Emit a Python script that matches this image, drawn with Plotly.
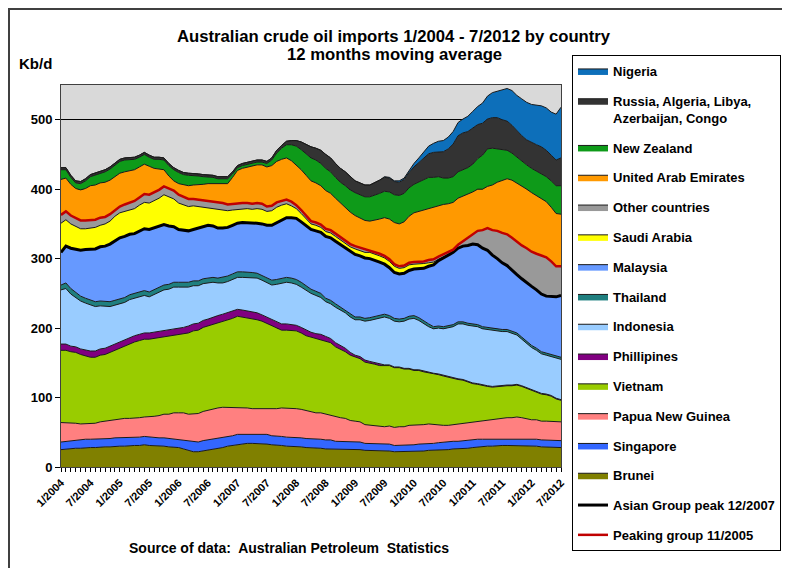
import plotly.graph_objects as go
import numpy as np

# ---------------- data (kb/d, 12-month moving average), monthly 1/2004 .. 7/2012 ----------------
months = [f"{m}/{y}" for y in range(2004, 2013) for m in range(1, 13)][:103]
tick_labels = ["1/2004", "7/2004", "1/2005", "7/2005", "1/2006", "7/2006", "1/2007", "7/2007",
               "1/2008", "7/2008", "1/2009", "7/2009", "1/2010", "7/2010", "1/2011", "7/2011",
               "1/2012", "7/2012"]

brunei = [25, 26, 26, 27, 27, 28, 28, 28, 29, 29, 29, 30,
          30, 30, 31, 31, 31, 32, 31, 31, 30, 30, 29, 29,
          28, 26, 24, 22, 22, 23, 24, 25, 27, 28, 30, 31,
          33, 33, 34, 34, 34, 33, 33, 32, 32, 31, 30, 30,
          29, 29, 28, 28, 27, 27, 26, 26, 25, 25, 25, 25,
          25, 25, 24, 24, 24, 23, 23, 23, 22, 22, 22, 22,
          22, 23, 23, 24, 24, 25, 25, 25, 26, 26, 27, 27,
          28, 29, 29, 30, 30, 31, 31, 31, 31, 31, 31, 30,
          30, 30, 29, 29, 29, 28, 28]
singapore = [11, 11, 12, 12, 12, 12, 12, 12, 12, 12, 12, 12,
             12, 12, 12, 12, 12, 12, 12, 12, 12, 12, 12, 12,
             12, 13, 13, 14, 14, 15, 15, 15, 14, 14, 14, 14,
             14, 14, 14, 14, 14, 14, 14, 13, 13, 13, 13, 13,
             13, 13, 13, 13, 13, 13, 13, 13, 12, 12, 12, 11,
             11, 11, 10, 10, 10, 10, 10, 10, 9, 9, 9, 10,
             10, 10, 10, 10, 10, 10, 11, 11, 11, 11, 11, 11,
             11, 11, 11, 10, 10, 10, 10, 10, 10, 10, 10, 10,
             10, 10, 10, 10, 10, 10, 10]
png = [28, 27, 25, 24, 23, 22, 22, 23, 24, 25, 26, 27,
       28, 28, 27, 27, 28, 28, 29, 30, 32, 34, 35, 37,
       38, 39, 39, 40, 41, 42, 43, 44, 44, 44, 42, 40,
       39, 38, 37, 36, 36, 37, 37, 38, 39, 41, 42, 42,
       42, 41, 40, 39, 38, 38, 37, 36, 35, 34, 33, 31,
       30, 29, 27, 26, 25, 25, 25, 26, 26, 27, 27, 28,
       28, 28, 28, 28, 27, 26, 24, 24, 24, 25, 25, 25,
       25, 26, 27, 28, 28, 29, 29, 30, 30, 31, 30, 29,
       28, 28, 27, 27, 27, 27, 27]
vietnam = [104, 104, 103, 102, 100, 98, 96, 95, 96, 96, 98, 100,
           102, 105, 108, 110, 111, 112, 112, 112, 112, 112, 112, 112,
           112, 114, 117, 120, 120, 121, 121, 122, 123, 124, 126, 129,
           131, 131, 130, 129, 128, 126, 123, 120, 116, 112, 112, 112,
           112, 110, 108, 107, 107, 106, 106, 104, 101, 99, 96, 94,
           92, 91, 90, 90, 89, 88, 88, 87, 86, 85, 83, 81,
           79, 78, 76, 74, 73, 72, 71, 69, 66, 64, 62, 59,
           56, 53, 50, 48, 47, 46, 46, 46, 46, 46, 45, 44,
           42, 40, 39, 38, 36, 33, 31]
phillipines = [9, 9, 8, 8, 8, 8, 9, 9, 9, 9, 9, 9,
               9, 9, 9, 9, 9, 9, 9, 9, 9, 9, 9, 9,
               9, 9, 10, 10, 10, 10, 10, 10, 10, 10, 10, 10,
               10, 10, 10, 10, 10, 9, 9, 9, 9, 9, 9, 8,
               8, 8, 8, 7, 7, 7, 6, 6, 6, 5, 5, 4,
               3, 3, 3, 2, 2, 2, 1, 1, 1, 1, 1, 1,
               1, 1, 1, 1, 1, 1, 1, 1, 1, 1, 1, 1,
               1, 1, 1, 1, 1, 1, 1, 1, 1, 1, 1, 1,
               1, 1, 1, 1, 1, 1, 1]
indonesia = [78, 80, 75, 71, 69, 68, 66, 64, 62, 60, 57, 55,
             54, 53, 54, 54, 55, 54, 52, 54, 56, 58, 59, 60,
             60, 58, 56, 55, 54, 53, 52, 50, 47, 45, 45, 46,
             46, 47, 48, 49, 50, 50, 49, 50, 54, 58, 60, 60,
             59, 58, 57, 56, 55, 53, 50, 50, 51, 51, 51, 51,
             51, 53, 56, 59, 63, 66, 69, 67, 66, 65, 68, 71,
             74, 71, 68, 65, 64, 66, 67, 70, 74, 79, 80, 81,
             82, 82, 81, 81, 80, 79, 78, 77, 74, 71, 67, 64,
             61, 59, 57, 56, 56, 57, 58]
thailand = [7, 8, 8, 7, 7, 7, 7, 7, 7, 7, 7, 7,
            7, 7, 7, 7, 7, 7, 7, 7, 7, 7, 7, 7,
            7, 7, 7, 7, 7, 7, 7, 7, 7, 8, 8, 8,
            8, 8, 8, 8, 7, 7, 7, 7, 7, 7, 7, 7,
            7, 7, 7, 6, 6, 6, 5, 5, 5, 4, 4, 4,
            4, 4, 4, 4, 4, 4, 4, 4, 4, 4, 4, 4,
            4, 4, 4, 4, 3, 3, 3, 3, 3, 3, 3, 3,
            3, 3, 3, 3, 3, 3, 3, 3, 3, 3, 3, 3,
            3, 3, 3, 3, 3, 3, 3]
malaysia = [47, 53, 58, 63, 66, 70, 74, 76, 78, 80, 83, 86,
            88, 88, 87, 86, 87, 89, 90, 89, 88, 87, 84, 80,
            76, 75, 74, 74, 76, 76, 76, 74, 72, 71, 70, 70,
            70, 71, 71, 71, 72, 74, 76, 79, 82, 84, 86, 87,
            88, 87, 86, 86, 87, 88, 89, 90, 90, 90, 90, 90,
            90, 88, 87, 85, 81, 77, 72, 69, 66, 65, 65, 66,
            67, 70, 76, 83, 89, 94, 99, 102, 104, 106, 109, 112,
            115, 115, 113, 111, 106, 101, 96, 92, 88, 84, 84, 84,
            85, 84, 83, 82, 84, 86, 89]
saudi_arabia = [42, 38, 35, 32, 31, 30, 30, 31, 31, 32, 33, 35,
                36, 36, 36, 36, 37, 38, 38, 39, 41, 43, 42, 40,
                38, 37, 35, 34, 31, 28, 26, 26, 27, 27, 24, 22,
                20, 19, 20, 20, 21, 21, 20, 21, 22, 22, 20, 17,
                14, 12, 10, 8, 8, 7, 7, 7, 7, 7, 7, 7,
                8, 8, 8, 9, 9, 9, 9, 9, 9, 8, 8, 8,
                7, 7, 7, 5, 4, 2, 1, 0, 0, 0, 0, 0,
                0, 0, 0, 0, 0, 0, 0, 0, 0, 0, 0, 0,
                0, 0, 0, 0, 0, 0, 0]
other_countries = [12, 12, 12, 12, 12, 12, 12, 11, 11, 10, 10, 9,
                   9, 10, 10, 11, 11, 12, 12, 12, 12, 12, 12, 12,
                   12, 11, 11, 10, 10, 10, 10, 10, 10, 9, 9, 9,
                   9, 9, 8, 8, 8, 8, 7, 7, 7, 6, 6, 6,
                   5, 5, 5, 4, 4, 4, 4, 4, 4, 4, 4, 4,
                   4, 4, 4, 3, 3, 3, 3, 3, 3, 3, 3, 3,
                   3, 3, 3, 4, 4, 4, 4, 4, 4, 5, 7, 10,
                   14, 20, 26, 32, 36, 40, 43, 45, 47, 47, 48, 50,
                   50, 52, 55, 56, 50, 44, 42]
uae = [51, 48, 45, 43, 44, 46, 49, 50, 50, 50, 49, 48,
       48, 47, 46, 45, 44, 43, 41, 35, 30, 24, 18, 14,
       16, 17, 19, 20, 21, 22, 24, 25, 26, 27, 30, 38,
       47, 50, 52, 54, 55, 56, 57, 58, 59, 60, 60, 59,
       58, 58, 58, 58, 57, 56, 55, 53, 51, 49, 47, 46,
       44, 43, 42, 42, 45, 50, 55, 58, 60, 61, 63, 67,
       71, 73, 74, 75, 75, 74, 72, 70, 68, 67, 65, 63,
       61, 60, 59, 60, 65, 70, 76, 80, 83, 85, 85, 85,
       85, 84, 82, 80, 78, 76, 75]
new_zealand = [14, 12, 10, 8, 9, 11, 13, 14, 14, 15, 16, 17,
               17, 17, 16, 15, 14, 14, 13, 13, 14, 14, 15, 16,
               16, 15, 15, 14, 13, 11, 10, 9, 8, 8, 7, 5,
               4, 4, 4, 4, 4, 4, 5, 8, 12, 16, 19, 23,
               27, 29, 31, 33, 33, 32, 32, 31, 30, 30, 31, 32,
               33, 33, 34, 35, 36, 37, 38, 39, 40, 41, 41, 41,
               41, 42, 43, 44, 43, 41, 38, 37, 37, 38, 38, 39,
               40, 44, 49, 54, 53, 48, 44, 41, 39, 37, 36, 35,
               35, 35, 36, 36, 38, 40, 41]
russia_group = [3, 3, 3, 3, 3, 3, 3, 3, 3, 3, 3, 3,
                3, 3, 3, 3, 3, 3, 3, 3, 3, 3, 3, 3,
                3, 3, 3, 3, 3, 3, 3, 3, 3, 3, 3, 3,
                3, 3, 3, 3, 3, 3, 3, 3, 4, 4, 5, 6,
                8, 11, 13, 16, 17, 19, 20, 20, 20, 20, 20, 19,
                17, 17, 17, 17, 18, 19, 20, 20, 19, 19, 20, 22,
                25, 28, 31, 34, 36, 36, 38, 42, 47, 52, 53, 52,
                52, 49, 46, 43, 44, 45, 43, 42, 40, 38, 37, 36,
                37, 38, 39, 38, 37, 37, 40]
nigeria = [0, 0, 0, 0, 0, 0, 0, 0, 0, 0, 0, 0,
           0, 0, 0, 0, 0, 0, 0, 0, 0, 0, 0, 0,
           0, 0, 0, 0, 0, 0, 0, 0, 0, 0, 0, 0,
           0, 0, 0, 0, 0, 0, 0, 0, 0, 0, 0, 0,
           0, 0, 0, 0, 0, 0, 0, 0, 0, 0, 0, 0,
           0, 0, 0, 0, 0, 0, 1, 1, 1, 2, 2, 3,
           5, 7, 9, 11, 13, 15, 16, 17, 18, 19, 20, 22,
           24, 26, 29, 33, 36, 38, 43, 47, 50, 51, 53, 54,
           55, 57, 59, 61, 62, 66, 73]

# stacking order bottom -> top: (legend name, values, fill colour)
stack = [
    ("Brunei", brunei, "#808000"),
    ("Singapore", singapore, "#3366ff"),
    ("Papua New Guinea", png, "#ff8080"),
    ("Vietnam", vietnam, "#99cc00"),
    ("Phillipines", phillipines, "#800080"),
    ("Indonesia", indonesia, "#99ccff"),
    ("Thailand", thailand, "#1f7f7f"),
    ("Malaysia", malaysia, "#6699ff"),
    ("Saudi Arabia", saudi_arabia, "#ffff00"),
    ("Other countries", other_countries, "#999999"),
    ("United Arab Emirates", uae, "#ff9900"),
    ("New Zealand", new_zealand, "#0e9a19"),
    ("Russia, Algeria, Libya,<br>Azerbaijan, Congo", russia_group, "#333333"),
    ("Nigeria", nigeria, "#0d6fba"),
]

x = list(range(len(months)))
tickvals = [months.index(t) for t in tick_labels]

# group totals drawn as lines
asian_group = np.sum([np.array(s[1]) for s in stack[:8]], axis=0)
peaking_group = asian_group + np.array(saudi_arabia) + np.array(other_countries)

fig = go.Figure()
n = len(stack)
for k, (name, vals, col) in enumerate(stack):
    fig.add_trace(go.Scatter(
        x=x, y=vals, name=name, stackgroup="one", mode="lines",
        line=dict(color="#1a1a1a", width=1), fillcolor=col,
        legendrank=n - k, legendgroup=name, hoverinfo="skip"))

fig.add_trace(go.Scatter(x=x, y=asian_group, name="Asian Group peak 12/2007", mode="lines",
                         line=dict(color="black", width=3), legendrank=15,
                         legendgroup="asian", hoverinfo="skip"))
fig.add_trace(go.Scatter(x=x, y=peaking_group, name="Peaking group 11/2005", mode="lines",
                         line=dict(color="#c00000", width=2.5), legendrank=16,
                         legendgroup="peaking", hoverinfo="skip"))

FONT = "Liberation Sans, Arial, sans-serif"
OFF = 8                      # page body margin of the browser
W, H = 790 - OFF, 568 - OFF
L, T = 61 - OFF, 85 - OFF     # plot area at screen (61, 85) .. (561, 467)
PW, PH = 500, 382
R, B = W - L - PW, H - T - PH


def px(xs):
    """screen x -> paper x"""
    return (xs - OFF - L) / PW


def py(ys):
    """screen y -> paper y"""
    return (H - B - (ys - OFF)) / PH


fig.update_layout(
    width=W, height=H,
    margin=dict(l=L, r=R, t=T, b=B, pad=0, autoexpand=False),
    paper_bgcolor="white", plot_bgcolor="#d9d9d9",
    font=dict(family=FONT, color="black"),
    showlegend=True,
    legend=dict(x=px(572), y=py(55), xanchor="left", yanchor="top",
                bgcolor="white", bordercolor="black", borderwidth=1,
                font=dict(family=FONT, size=13, color="black", weight="bold"),
                tracegroupgap=9.9, valign="top", itemwidth=30, maxheight=560),
    xaxis=dict(range=[0, len(months) - 1], tickmode="array", tickvals=tickvals,
               ticktext=tick_labels, tickangle=-45, automargin=False,
               tickfont=dict(family=FONT, size=11, color="black", weight="bold"),
               ticks="outside", ticklen=4, tickcolor="black",
               minor=dict(tickmode="linear", tick0=0, dtick=1, ticks="outside",
                          ticklen=4, tickcolor="black"),
               showline=True, linecolor="#404040", linewidth=1, mirror=True,
               showgrid=False, zeroline=False),
    yaxis=dict(range=[0, 550], tickmode="array", tickvals=[0, 100, 200, 300, 400, 500],
               automargin=False,
               tickfont=dict(family=FONT, size=13, color="black", weight="bold"),
               ticks="outside", ticklen=5, tickcolor="black",
               showline=True, linecolor="#404040", linewidth=1, mirror=True,
               showgrid=True, gridcolor="black", gridwidth=1, zeroline=False),
    annotations=[
        dict(text="Australian crude oil imports 1/2004 - 7/2012 by country",
             xref="paper", yref="paper", x=px(394), y=py(36), xanchor="center", yanchor="middle",
             showarrow=False, font=dict(family=FONT, size=16.7, color="black", weight="bold")),
        dict(text="12 months moving average",
             xref="paper", yref="paper", x=px(394), y=py(54), xanchor="center", yanchor="middle",
             showarrow=False, font=dict(family=FONT, size=16.7, color="black", weight="bold")),
        dict(text="Kb/d", xref="paper", yref="paper", x=px(35), y=py(63),
             xanchor="center", yanchor="middle", showarrow=False,
             font=dict(family=FONT, size=15, color="black", weight="bold")),
        dict(text="Source of data:  Australian Petroleum  Statistics",
             xref="paper", yref="paper", x=px(289), y=py(548),
             xanchor="center", yanchor="middle", showarrow=False,
             font=dict(family=FONT, size=14, color="black", weight="bold")),
    ],
    shapes=[dict(type="rect", xref="paper", yref="paper",
                 x0=px(9), x1=px(820), y0=py(600), y1=py(9),
                 line=dict(color="#404040", width=2), fillcolor="rgba(0,0,0,0)", layer="below")],
)

fig.write_html("out.html")
